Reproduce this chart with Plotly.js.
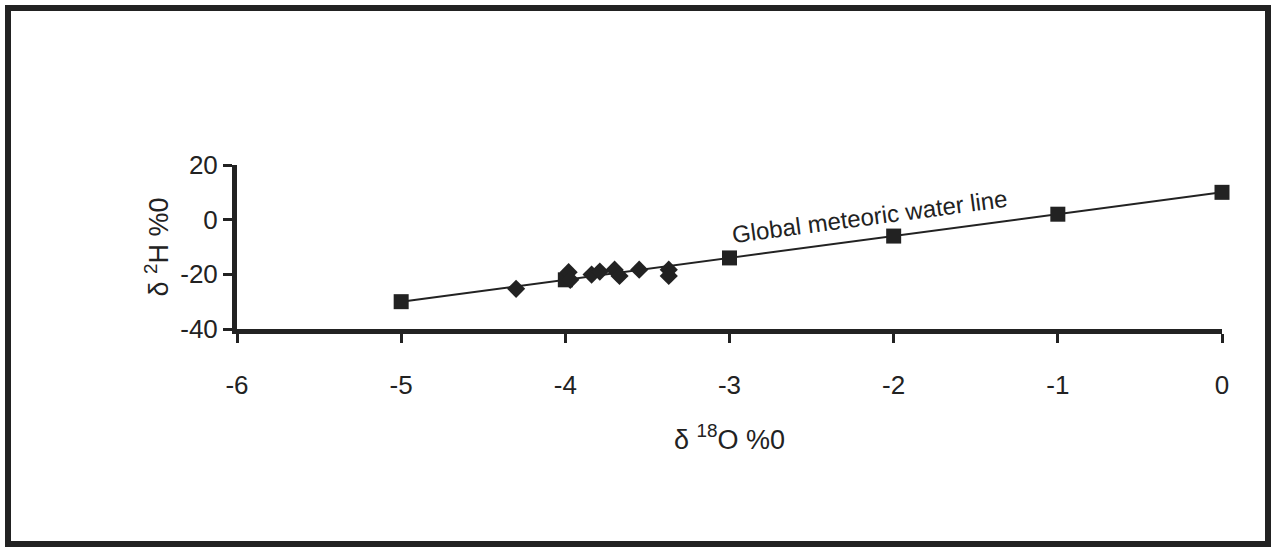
<!DOCTYPE html>
<html>
<head>
<meta charset="utf-8">
<script src="https://cdn.plot.ly/plotly-3.0.1.min.js"></script>
<style>
  html, body { margin: 0; padding: 0; background: #fff; }
  #wrap { position: relative; width: 1275px; height: 547px; }
  #chart { width: 1275px; height: 547px; }
  #frame { position: absolute; left: 5px; top: 5px; width: 1254px; height: 530px;
           border: 6px solid #222; pointer-events: none; }
</style>
</head>
<body>
<div id="wrap">
  <div id="chart"></div>
  <div id="frame"></div>
</div>
<script>
// Global meteoric water line points (δ18O, δ2H)
const gmwlO = [-5, -4, -3, -2, -1, 0];
const gmwlH = [-30, -22, -14, -6, 2, 10];

// Sample points (δ18O, δ2H)
const sampleO = [-4.30, -3.98, -3.97, -3.84, -3.79, -3.70, -3.67, -3.55, -3.37, -3.37];
const sampleH = [-25.3, -19.2, -22.0, -20.1, -19.0, -18.3, -20.6, -18.3, -18.3, -20.6];

const xTicks = [-6, -5, -4, -3, -2, -1, 0];
const yTicks = [-40, -20, 0, 20];

const ink = '#222';
const font = 'Liberation Sans, Arial, sans-serif';

const traces = [
  {
    x: gmwlO, y: gmwlH, type: 'scatter', mode: 'lines+markers',
    line: { color: ink, width: 2 },
    marker: { symbol: 'square', size: 15, color: ink },
    cliponaxis: false, showlegend: false
  },
  {
    x: sampleO, y: sampleH, type: 'scatter', mode: 'markers',
    marker: { symbol: 'diamond', size: 14, color: ink },
    cliponaxis: false, showlegend: false
  }
];

const layout = {
  width: 1275, height: 547,
  margin: { l: 237, r: 53, t: 165, b: 218 },
  paper_bgcolor: '#fff', plot_bgcolor: '#fff',
  font: { family: font, color: ink },
  xaxis: {
    range: [-6, 0], tickvals: xTicks, ticktext: xTicks.map(String),
    showgrid: false, zeroline: false,
    showline: true, linewidth: 5, linecolor: ink,
    ticks: 'outside', ticklen: 9, tickwidth: 3, tickcolor: ink,
    tickfont: { size: 26, family: font, color: ink },
    ticklabelstandoff: 20,
    title: { text: 'δ <sup>18</sup>O %0', font: { size: 27, family: font, color: ink }, standoff: 32 }
  },
  yaxis: {
    range: [-40, 20], tickvals: yTicks, ticktext: yTicks.map(String),
    showgrid: false, zeroline: false,
    showline: true, linewidth: 5, linecolor: ink,
    ticks: 'outside', ticklen: 9, tickwidth: 3, tickcolor: ink,
    tickfont: { size: 26, family: font, color: ink },
    ticklabelstandoff: 0,
    title: { text: 'δ <sup>2</sup>H %0', font: { size: 27, family: font, color: ink }, standoff: 5 }
  },
  annotations: [
    {
      x: -2.145, y: 1.0, xref: 'x', yref: 'y',
      text: 'Global meteoric water line', showarrow: false,
      textangle: -7.6, font: { size: 24, family: font, color: ink },
      xanchor: 'center', yanchor: 'middle'
    }
  ]
};

Plotly.newPlot('chart', traces, layout, { displayModeBar: false, staticPlot: true });
</script>
</body>
</html>
